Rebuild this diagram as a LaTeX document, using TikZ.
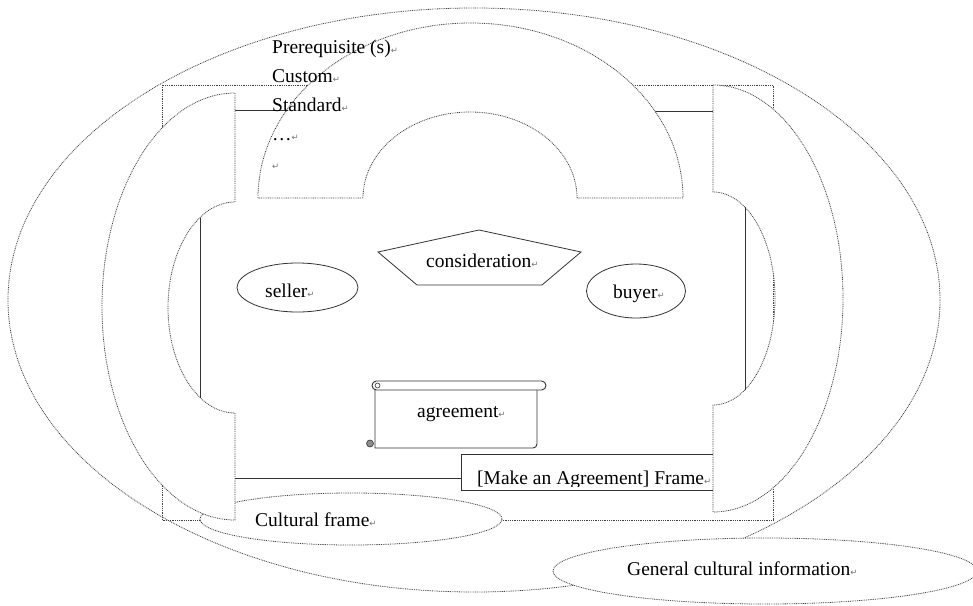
\documentclass[tikz,border=0pt]{standalone}
\usepackage{fontspec}
\setmainfont{Liberation Serif}
\newfontfamily\markfont{DejaVu Sans}
\newcommand{\retmark}{{\markfont\fontsize{8.5}{8.5}\selectfont\textcolor{black!55}{↵}}}
\usetikzlibrary{calc}

\begin{document}
\begin{tikzpicture}[x=1pt, y=-1pt,
	dotline/.style={draw=black!75, line width=0.8pt, dash pattern=on 0.9pt off 0.9pt},
	solidline/.style={draw=black!80, line width=0.9pt},
	lbl/.style={anchor=base west, inner sep=0pt, font=\fontsize{19.5}{23}\selectfont}]
	\def\wrx{466}
	\def\wry{292}
	\useasboundingbox (0,0) rectangle (973,605);
	\coordinate (world) at (474,300);
	\coordinate (frameNW) at (162,85);
	\coordinate (frameSE) at (773,520);
	\coordinate (tieL) at (235,110);
	\coordinate (tieLa) at (287,110);
	\coordinate (tieRa) at (655,111);
	\coordinate (tieR) at (713,111);
	\coordinate (cult) at (351,519);
	\coordinate (gen) at (765,571);

	\draw[dotline, fill=white] (world) ellipse [x radius=\wrx, y radius=\wry];
	\draw[dotline] (frameNW) rectangle (frameSE);
	\draw[solidline] (tieL) -- (tieLa);
	\draw[solidline] (tieRa) -- (tieR);
	\draw[dotline, fill=white] (cult) ellipse [x radius=151, y radius=26];

	\draw[dotline, fill=white] (235,93) -- (235,202)
		arc[start angle=-90, end angle=-270, x radius=67, y radius=105.5] -- (235,520)
		arc[start angle=90, end angle=270, x radius=133, y radius=213.5] -- cycle;
	\draw[dotline, fill=white] (713,85) -- (713,192)
		arc[start angle=-90, end angle=90, x radius=62, y radius=106.5] -- (713,512)
		arc[start angle=90, end angle=-90, x radius=130, y radius=213.5] -- cycle;
	\draw[dotline, fill=white] (258,198)
		arc[start angle=180, end angle=360, x radius=212.5, y radius=175] -- (577,198)
		arc[start angle=0, end angle=-180, x radius=107, y radius=86] -- cycle;

	\draw[solidline] (200,217.5) -- (200,397.5);
	\draw[solidline] (745,207) -- (745,390);

	\coordinate (boxNE) at (713,454);
	\coordinate (boxNW) at (461,454);
	\coordinate (boxSW) at (461,490);
	\coordinate (boxSE) at (713,490);
	\coordinate (boxW) at (461,478);
	\coordinate (tieB) at (235,478);
	\draw[solidline] (boxNE) -- (boxNW) -- (boxSW) -- (boxSE);
	\draw[solidline] (tieB) -- (boxW);
	\begin{scope}
		\clip (461,455) rectangle (712,486);
		\node[lbl] (frameLbl) at (477,484.5) {[Make an Agreement] Frame\retmark};
	\end{scope}

	\draw[solidline, line width=0.8pt] (297.5,287.5) ellipse [x radius=60.5, y radius=24.5];
	\draw[solidline, line width=0.8pt] (636,291) ellipse [x radius=49.5, y radius=27];
	\coordinate (pTop) at (479,230);
	\coordinate (pRight) at (581,252);
	\coordinate (pSE) at (542,285);
	\coordinate (pSW) at (417,285);
	\coordinate (pLeft) at (378,252);
	\draw[solidline, line width=0.8pt] (pTop) -- (pRight) -- (pSE) -- (pSW) -- (pLeft) -- cycle;

	\draw[solidline] (375,386) -- (375,448) -- (533,448) arc[start angle=90, end angle=0, radius=4] -- (537,390);
	\draw[solidline, fill=white, rounded corners=4.5] (372,381) rectangle (546,390);
	\draw[solidline, line width=0.6pt] (377.5,385.5) circle (2.5);
	\filldraw[solidline, line width=0.6pt, fill=black!45] (370,443.5) circle (3.5);

	\draw[dotline, fill=white] (gen) ellipse [x radius=212, y radius=33];

	\node[lbl] (pre1) at (272,53.5) {Prerequisite (s)\retmark};
	\node[lbl] (pre2) at (272,82.5) {Custom\retmark};
	\node[lbl] (pre3) at (272,111.5) {Standard\retmark};
	\node[lbl] (pre4) at (272,140.5) {…\retmark};
	\node[lbl] (pre5) at (272,169.5) {\retmark};
	\node[lbl] (consid) at (426,267) {consideration\retmark};
	\node[lbl] (seller) at (265,297) {seller\retmark};
	\node[lbl] (buyer) at (613,298) {buyer\retmark};
	\node[lbl] (agree) at (417,417) {agreement\retmark};
	\node[lbl] (cultLbl) at (255,526) {Cultural frame\retmark};
	\node[lbl] (genLbl) at (627,575) {General cultural information\retmark};
\end{tikzpicture}
\end{document}
